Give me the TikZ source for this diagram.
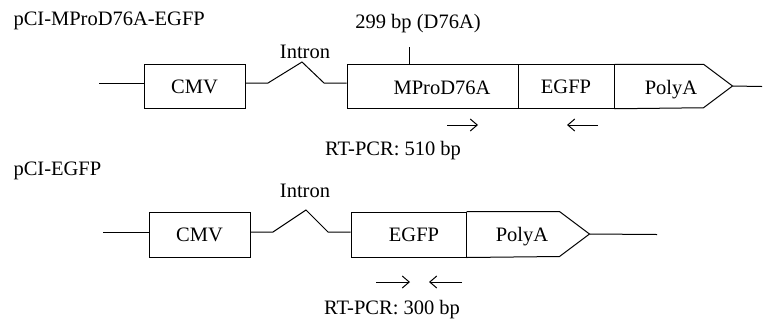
\documentclass[tikz,border=0pt]{standalone}
\usepackage{fontspec}
\setmainfont{Liberation Serif}
\usetikzlibrary{arrows.meta}
\begin{document}
\begin{tikzpicture}[x=1bp,y=-1bp,line width=1bp,
        every node/.style={font=\fontsize{20.5bp}{24bp}\selectfont,inner sep=0pt},
        box/.style={draw,minimum height=#1},
        primer/.style={-{Straight Barb[length=7bp,width=12bp]}}]
    \useasboundingbox (0,0) rectangle (763,321);
    % pCI-MProD76A-EGFP
    \node [anchor=base west] (name1) at (13,25) {pCI-MProD76A-EGFP};
    \node [box=43.5bp,minimum width=101bp] (cmv1) at (194.5,86.5) {CMV};
    \node [box=43.5bp,minimum width=171bp] (mpro1) at (432.5,86.5) {};
    \node [anchor=base] (mprolbl1) at (442,94) {MProD76A};
    \node [box=43.5bp,minimum width=96bp] (egfp1) at (566,86.5) {EGFP};
    \draw (egfp1.north east) -- ++(89,0) -- ++(29,21.75) coordinate (tip1) -- ++(-29,21.75) -- (egfp1.south east);
    \node [anchor=base] (polya1) at (671,94) {PolyA};
    \coordinate (start1) at (99,83);
    \coordinate (end1) at (762,86.5);
    \draw (start1) -- (start1 -| cmv1.west);
    \draw (cmv1.east |- start1) -- (268,83) -- (302,62) -- (324,83) -- (mpro1.west |- start1);
    \node [anchor=base] (intron1) at (305,58) {Intron};
    \draw (tip1) -- (end1);
    \coordinate (mut1) at (409,47);
    \draw (mut1) -- (mut1 |- mpro1.north);
    \node [anchor=base] (mutlbl1) at (418,28) {299 bp (D76A)};
    \draw [primer] (447,125) -- (478,125);
    \draw [primer] (598,125) -- (567,125);
    \node [anchor=base] (rtpcr1) at (393,155) {RT-PCR: 510 bp};
    % pCI-EGFP
    \node [anchor=base west] (name2) at (13,175) {pCI-EGFP};
    \node [box=45bp,minimum width=101bp] (cmv2) at (199.5,234.5) {CMV};
    \node [box=45bp,minimum width=115bp] (egfp2) at (408.5,234.5) {};
    \node [anchor=base] (egfplbl2) at (414,241) {EGFP};
    \draw (egfp2.north east) -- ++(93,0) -- ++(30,22.5) coordinate (tip2) -- ++(-30,22.5) -- (egfp2.south east);
    \node [anchor=base] (polya2) at (522,241) {PolyA};
    \coordinate (start2) at (103,232);
    \coordinate (end2) at (657,234.5);
    \draw (start2) -- (start2 -| cmv2.west);
    \draw (cmv2.east |- start2) -- (273,232) -- (306,210) -- (328,232) -- (egfp2.west |- start2);
    \node [anchor=base] (intron2) at (305,197) {Intron};
    \draw (tip2) -- (end2);
    \draw [primer] (376,282) -- (410,282);
    \draw [primer] (462,282) -- (429,282);
    \node [anchor=base] (rtpcr2) at (392,314) {RT-PCR: 300 bp};
\end{tikzpicture}
\end{document}
